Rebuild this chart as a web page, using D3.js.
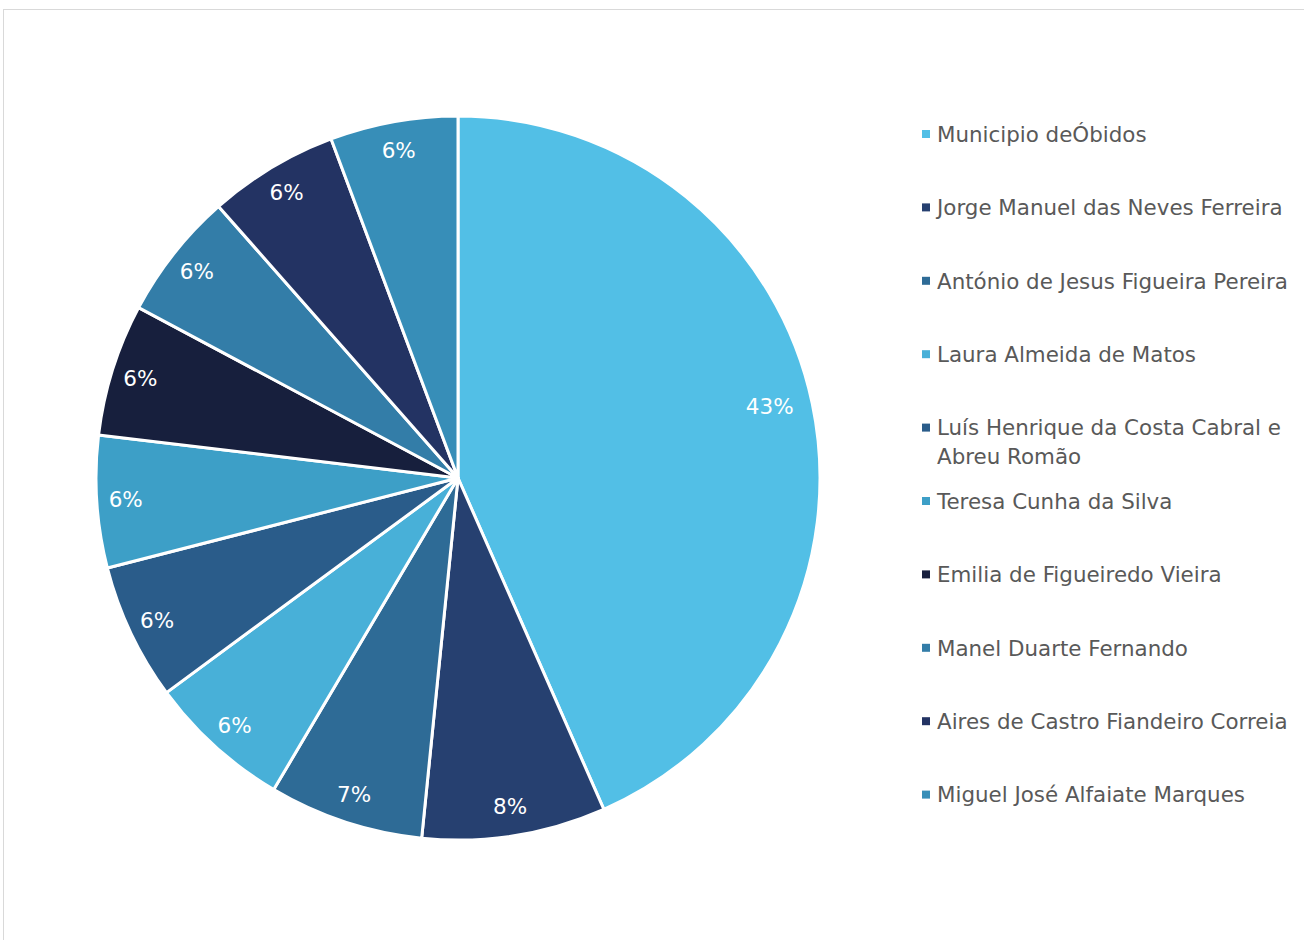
<!DOCTYPE html>
<html>
<head>
  <meta charset="utf-8">
  <title>Pie Chart</title>
  <script src="https://d3js.org/d3.v7.min.js"></script>
  <style>
    body { margin: 0; background: #fff; }
    text { font-family: "DejaVu Sans", Verdana, sans-serif; }
  </style>
</head>
<body>
<div id="chart"></div>
<script>
// data (share of total, %)
var names = [
  "Municipio deÓbidos",
  "Jorge Manuel das Neves Ferreira",
  "António de Jesus Figueira Pereira",
  "Laura Almeida de Matos",
  "Luís Henrique da Costa Cabral e|Abreu Romão",
  "Teresa Cunha da Silva",
  "Emilia de Figueiredo Vieira",
  "Manel Duarte Fernando",
  "Aires de Castro Fiandeiro Correia",
  "Miguel José Alfaiate Marques"
];
var shares = [43.4, 8.2, 6.9, 6.4, 6.1, 5.9, 5.9, 5.7, 5.8, 5.7];
var colors = ["#52bfe6", "#264070", "#2e6b96", "#48b0d8", "#2a5c8a",
              "#3d9fc7", "#171f3d", "#337da8", "#233363", "#378eb8"];

var W = 1304, H = 940;
var cx = 458, cy = 478, R = 362;

var svg = d3.select("#chart").append("svg")
  .attr("width", W).attr("height", H);

// chart frame
svg.append("rect")
  .attr("x", 3.5).attr("y", 9.5)
  .attr("width", W + 10).attr("height", H + 10)
  .attr("fill", "none").attr("stroke", "#d9d9d9");

var pie = d3.pie().sort(null).value(d => d)(shares);
var arc = d3.arc().innerRadius(0).outerRadius(R);
var labelArc = d3.arc().innerRadius(R * 0.92).outerRadius(R * 0.92);
var bigArc = d3.arc().innerRadius(R * 0.88).outerRadius(R * 0.88);

var g = svg.append("g").attr("transform", "translate(" + cx + "," + cy + ")");

g.selectAll("path")
  .data(pie)
  .enter().append("path")
  .attr("d", arc)
  .attr("fill", (d, i) => colors[i])
  .attr("stroke", "#fff")
  .attr("stroke-width", 3)
  .attr("stroke-linejoin", "round");

g.selectAll("text.lbl")
  .data(pie)
  .enter().append("text")
  .attr("class", "lbl")
  .attr("transform", (d, i) => {
    var c = (i === 0 ? bigArc : labelArc).centroid(d);
    if (i === 0) c[1] -= 6;
    return "translate(" + c[0] + "," + c[1] + ")";
  })
  .attr("text-anchor", "middle")
  .attr("dy", "0.35em")
  .attr("fill", "#fff")
  .style("font-size", "21.5px")
  .text(d => Math.round(d.value) + "%");

// legend
var legend = svg.append("g").attr("transform", "translate(922,134)");
var step = 73.4;
var items = legend.selectAll("g")
  .data(names)
  .enter().append("g")
  .attr("transform", (d, i) => "translate(0," + (i * step) + ")");

items.append("rect")
  .attr("x", 0).attr("y", -4)
  .attr("width", 8).attr("height", 8)
  .attr("fill", (d, i) => colors[i]);

items.each(function(d) {
  var t = d3.select(this).append("text")
    .attr("x", 15)
    .attr("fill", "#595959")
    .style("font-size", "21.4px");
  d.split("|").forEach((line, k) => {
    t.append("tspan")
      .attr("x", 15)
      .attr("dy", k === 0 ? "0.36em" : "29")
      .text(line);
  });
});
</script>
</body>
</html>
